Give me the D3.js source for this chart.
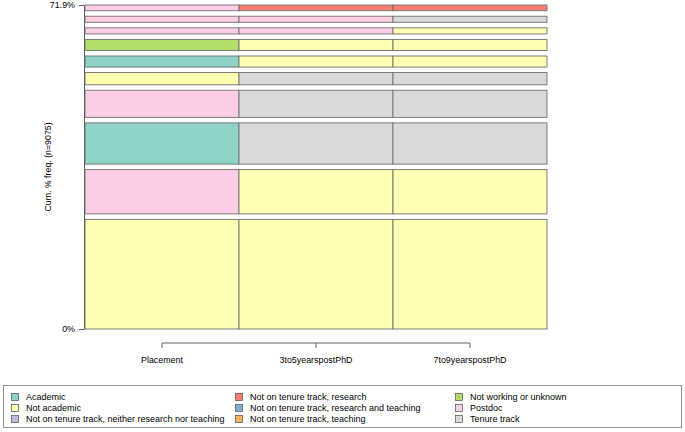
<!DOCTYPE html>
<html>
<head>
<meta charset="utf-8">
<script src="https://cdn.jsdelivr.net/npm/d3@7"></script>
<style>
  html, body { margin: 0; padding: 0; background: #fff; }
  svg { display: block; font-family: "Liberation Sans", Arial, Helvetica, sans-serif; }
</style>
</head>
<body>
<svg id="chart" width="685" height="432"></svg>
<script>
// ---- Data ----
const stateNames = [
  "Academic",
  "Not academic",
  "Not on tenure track, neither research nor teaching",
  "Not on tenure track, research",
  "Not on tenure track, research and teaching",
  "Not on tenure track, teaching",
  "Not working or unknown",
  "Postdoc",
  "Tenure track"
];
const stateColors = ["#8DD3C7", "#FFFFB3", "#BEBADA", "#FB8072", "#80B1D3", "#FDB462", "#B3DE69", "#FCCDE5", "#D9D9D9"];
const timeLabels = ["Placement", "3to5yearspostPhD", "7to9yearspostPhD"];

// most frequent sequences, from bottom (most frequent) to top
const sequences = [
  ["Not academic", "Not academic", "Not academic"],
  ["Postdoc", "Not academic", "Not academic"],
  ["Academic", "Tenure track", "Tenure track"],
  ["Postdoc", "Tenure track", "Tenure track"],
  ["Not academic", "Tenure track", "Tenure track"],
  ["Academic", "Not academic", "Not academic"],
  ["Not working or unknown", "Not academic", "Not academic"],
  ["Postdoc", "Postdoc", "Not academic"],
  ["Postdoc", "Postdoc", "Tenure track"],
  ["Postdoc", "Not on tenure track, research", "Not on tenure track, research"]
];
const seqFreqPct = [28.7, 11.6, 10.8, 7.1, 3.2, 2.9, 2.9, 1.6, 1.6, 1.5];
const nSeq = 9075;
const yTickLabels = ["0%", "71.9%"];

// ---- Layout ----
const svg = d3.select("#chart");
const plotLeft = 85, plotRight = 547, plotTop = 5, plotBottom = 329;

const color = d3.scaleOrdinal().domain(stateNames).range(stateColors);

const totalPct = d3.sum(seqFreqPct);
const gap = 0.2 * totalPct / seqFreqPct.length;
const span = totalPct + gap * (seqFreqPct.length - 1);

const y = d3.scaleLinear().domain([0, span]).range([plotBottom, plotTop]);
const x = d3.scaleBand().domain(timeLabels).range([plotLeft, plotRight]).padding(0);

// compute bar positions
let cum = 0;
const bars = seqFreqPct.map((f, i) => {
  const b = { y0: cum, y1: cum + f, seq: sequences[i] };
  cum += f + gap;
  return b;
});

const cells = [];
bars.forEach((b, i) => {
  b.seq.forEach((s, j) => cells.push({ state: s, t: timeLabels[j], y0: b.y0, y1: b.y1 }));
});

svg.append("g").selectAll("rect").data(cells).join("rect")
  .attr("x", d => x(d.t))
  .attr("y", d => y(d.y1))
  .attr("width", x.bandwidth())
  .attr("height", d => y(d.y0) - y(d.y1))
  .attr("fill", d => color(d.state))
  .attr("stroke", "#707070")
  .attr("stroke-width", 0.9);

// ---- Y axis ----
const yAxis = d3.axisLeft(y)
  .tickValues([0, span])
  .tickFormat((d, i) => yTickLabels[i])
  .tickSize(5).tickPadding(4).tickSizeOuter(0);
const gy = svg.append("g").attr("transform", `translate(${plotLeft - 1},0)`).call(yAxis);
gy.selectAll("text").attr("font-size", 8.9).attr("fill", "#000").attr("font-family", "Liberation Sans, Arial, sans-serif");
gy.selectAll("line, path").attr("stroke", "#606060");

svg.append("text")
  .attr("transform", `translate(51,167) rotate(-90)`)
  .attr("text-anchor", "middle")
  .attr("font-size", 8.8)
  .text(`Cum. % freq. (n=${nSeq})`);

// ---- X axis ----
const xAxis = d3.axisBottom(x).tickSize(5).tickPadding(9).tickSizeOuter(0);
const gx = svg.append("g").attr("transform", `translate(0,343)`).call(xAxis);
gx.select(".domain").remove();
const c0 = x(timeLabels[0]) + x.bandwidth() / 2;
const c2 = x(timeLabels[timeLabels.length - 1]) + x.bandwidth() / 2;
gx.append("line").attr("x1", c0).attr("x2", c2).attr("y1", 0).attr("y2", 0).attr("stroke", "#606060");
gx.selectAll("line").attr("stroke", "#606060");
gx.selectAll("text").attr("font-size", 8.9).attr("fill", "#000").attr("font-family", "Liberation Sans, Arial, sans-serif");

// ---- Legend ----
const legend = svg.append("g");
legend.append("rect")
  .attr("x", 3.5).attr("y", 385.5).attr("width", 678).attr("height", 42)
  .attr("fill", "none").attr("stroke", "#909090");
const colX = [12, 236, 456];
const rowY = [397, 408, 419];
stateNames.forEach((s, i) => {
  const c = Math.floor(i / 3), r = i % 3;
  legend.append("rect")
    .attr("x", colX[c] - 0.5).attr("y", rowY[r] - 3.5).attr("width", 7).attr("height", 7)
    .attr("fill", color(s)).attr("stroke", "#606060").attr("stroke-width", 0.8);
  legend.append("text")
    .attr("x", colX[c] + 14).attr("y", rowY[r]).attr("dy", "0.35em")
    .attr("font-size", 9.0).text(s);
});
</script>
</body>
</html>
